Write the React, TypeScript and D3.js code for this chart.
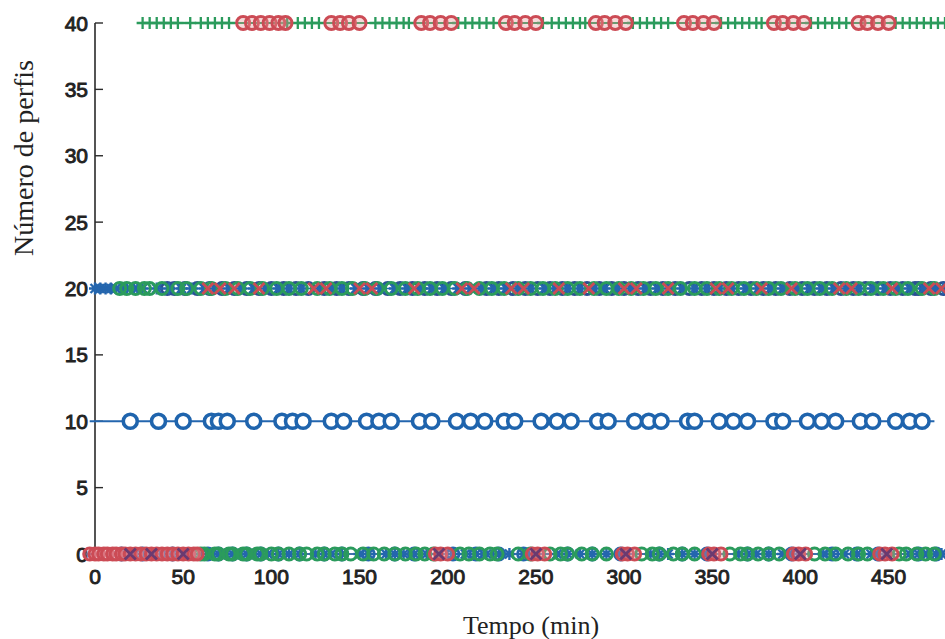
import React, { useEffect, useRef } from "react";
import * as d3 from "d3";

// axis ticks
const xTicks = [0, 50, 100, 150, 200, 250, 300, 350, 400, 450];
const yTicks = [0, 5, 10, 15, 20, 25, 30, 35, 40];

// level 40: green crosses + red circle clusters (minutes)
const crosses40 = [27, 31, 35, 39, 43, 47, 54, 60, 64, 68, 72, 76, 109, 115, 119, 123, 127, 159, 163, 167, 171, 175, 178, 206, 210, 214, 218, 222, 226, 254, 259, 263, 267, 271, 275, 278, 305, 309, 313, 317, 321, 325, 355, 359, 363, 367, 371, 375, 378, 406, 410, 414, 418, 422, 426, 454, 458, 462, 466, 470, 474, 478, 482];
const circles40 = [84, 89, 94, 99, 104, 108, 134, 139, 144, 150, 185, 190, 196, 202, 233, 238, 244, 250, 284, 289, 295, 301, 334, 339, 345, 351, 385, 390, 396, 402, 433, 438, 444, 450];
const line40 = [27, 482];

// level 20: mixed markers
const stars20 = [0, 3, 6, 9, 12, 16, 20, 24, 27, 35, 42, 49, 55, 62, 68, 76, 83, 90, 97, 104, 110, 117, 128, 134, 140, 148, 155, 162, 170, 177, 185, 191, 198, 206, 213, 219, 226, 233, 240, 247, 255, 261, 268, 275, 283, 289, 296, 304, 312, 319, 326, 333, 340, 347, 354, 361, 369, 376, 383, 390, 398, 405, 412, 419, 426, 433, 441, 448, 455, 462, 470, 476, 481];
const greenCircles20 = [14, 18, 23, 28, 31, 38, 47, 52, 60, 66, 74, 81, 88, 95, 103, 110, 117, 126, 133, 140, 146, 153, 160, 168, 176, 183, 190, 197, 204, 211, 218, 225, 232, 240, 247, 254, 261, 268, 275, 283, 290, 297, 304, 311, 318, 325, 332, 340, 347, 354, 361, 368, 375, 382, 389, 397, 404, 411, 418, 426, 433, 440, 447, 454, 461, 469, 476];
const redX20 = [64, 71, 79, 93, 124, 131, 150, 157, 181, 208, 215, 236, 243, 263, 280, 300, 307, 325, 352, 359, 378, 395, 422, 429, 452, 473, 480];
const blueCircles20 = [41, 45, 51, 58, 65, 72, 79, 86, 93, 100, 107, 114, 121, 130, 137, 144, 152, 159, 166, 173, 180, 187, 194, 202, 210, 222, 229, 237, 244, 251, 258, 265, 272, 279, 286, 293, 300, 308, 315, 322, 329, 337, 344, 351, 358, 365, 372, 379, 386, 394, 401, 408, 415, 423, 430, 437, 444, 451, 458, 465, 467, 474, 481];
const line20 = [-1, 482];

// level 10: blue circles on a blue line
const circles10 = [20, 36, 50, 66, 70, 75, 90, 106, 112, 118, 134, 141, 154, 161, 168, 184, 191, 205, 213, 221, 232, 238, 253, 262, 270, 285, 291, 306, 314, 321, 336, 340, 354, 362, 370, 385, 390, 404, 412, 420, 434, 441, 454, 462, 469];
const line10 = [-3, 476];

// level 0: mixed markers
const red0 = [-3, 0, 2, 5, 7, 10, 12, 15, 17, 20, 23, 26, 29, 32, 35, 38, 41, 44, 47, 50, 53, 56, 58, 193, 196, 200, 248, 251, 255, 299, 302, 306, 348, 351, 355, 396, 399, 403, 445, 448, 452];
const blue0 = [15, 22, 27, 38, 44, 55, 64, 66, 70, 74, 78, 82, 86, 90, 94, 98, 104, 110, 116, 125, 130, 134, 140, 150, 155, 165, 170, 175, 181, 188, 203, 210, 216, 222, 229, 235, 243, 262, 268, 275, 282, 290, 298, 315, 320, 325, 333, 340, 347, 365, 370, 375, 382, 390, 395, 413, 418, 425, 432, 440, 444, 462, 467, 472, 477, 480];
const green0 = [60, 62, 68, 70, 76, 78, 84, 86, 92, 94, 100, 104, 110, 116, 120, 126, 130, 136, 140, 145, 152, 158, 164, 170, 176, 182, 187, 192, 207, 212, 218, 224, 228, 240, 247, 258, 264, 268, 276, 282, 290, 310, 316, 320, 328, 333, 340, 360, 366, 370, 376, 382, 388, 408, 414, 420, 427, 433, 438, 456, 460, 466, 471, 476];
const purple0 = [20, 32, 50, 195, 250, 301, 350, 400, 449];
const line0 = [-5, 482];

const GREEN = "#2b9b5c";
const RED = "#cc4b55";
const BLUE = "#2466ae";
const NAVY = "#2b4f93";
const PURPLE = "#6b3a70";

const plus = (s: number) => `M${-s},0H${s}M0,${-s}V${s}`;
const cross = (s: number) => `M${-s},${-s}L${s},${s}M${-s},${s}L${s},${-s}`;
const star = (s: number) => plus(s) + cross(s * 0.75);

const App = () => {
  const ref = useRef<SVGSVGElement>(null);

  useEffect(() => {
    if (!ref.current) return;
    const svg = d3.select(ref.current);
    svg.selectAll("*").remove();

    const x = d3.scaleLinear().domain([0, 482]).range([95, 945]);
    const y = d3.scaleLinear().domain([0, 40]).range([554, 23]);

    // axes
    const axisColor = "#2a2a2a";
    svg.append("line").attr("x1", x(0)).attr("x2", x(0)).attr("y1", y(40)).attr("y2", y(0))
      .attr("stroke", axisColor).attr("stroke-width", 1.6);
    svg.append("line").attr("x1", x(0)).attr("x2", 945).attr("y1", y(0)).attr("y2", y(0))
      .attr("stroke", axisColor).attr("stroke-width", 1.2);

    svg.append("g").selectAll("line").data(yTicks).join("line")
      .attr("x1", x(0)).attr("x2", x(0) + 8).attr("y1", (d) => y(d)).attr("y2", (d) => y(d))
      .attr("stroke", axisColor).attr("stroke-width", 1.4);

    const tickFont = "'Liberation Sans', Arial, sans-serif";
    svg.append("g").selectAll("text").data(yTicks).join("text")
      .attr("x", x(0) - 7).attr("y", (d) => y(d)).attr("dy", "0.36em")
      .attr("text-anchor", "end").style("font-family", tickFont).style("font-size", "21px")
      .attr("fill", "#222").attr("stroke", "#222").attr("stroke-width", 0.9)
      .text((d) => d);

    svg.append("g").selectAll("text").data(xTicks).join("text")
      .attr("x", (d) => x(d)).attr("y", 584)
      .attr("text-anchor", "middle").style("font-family", tickFont).style("font-size", "21px")
      .attr("fill", "#222").attr("stroke", "#222").attr("stroke-width", 0.9)
      .text((d) => d);

    const serif = "'Liberation Serif', 'Times New Roman', serif";
    svg.append("text").attr("x", 531).attr("y", 634).attr("text-anchor", "middle")
      .style("font-family", serif).style("font-size", "26px").attr("fill", "#222")
      .text("Tempo (min)");
    svg.append("text").attr("transform", "translate(33,158) rotate(-90)").attr("text-anchor", "middle")
      .style("font-family", serif).style("font-size", "28px").attr("fill", "#222")
      .text("Número de perfis");

    const drawLine = (span: number[], level: number, color: string, w: number) => {
      svg.append("line").attr("x1", x(span[0])).attr("x2", x(span[1]))
        .attr("y1", y(level)).attr("y2", y(level))
        .attr("stroke", color).attr("stroke-width", w);
    };
    const drawPaths = (data: number[], level: number, d: string, color: string, w: number) => {
      svg.append("g").selectAll("path").data(data).join("path")
        .attr("transform", (t) => `translate(${x(t)},${y(level)})`)
        .attr("d", d).attr("fill", "none").attr("stroke", color).attr("stroke-width", w);
    };
    const drawCircles = (data: number[], level: number, r: number, color: string, w: number, fill = "none") => {
      svg.append("g").selectAll("circle").data(data).join("circle")
        .attr("cx", (t) => x(t)).attr("cy", y(level)).attr("r", r)
        .attr("fill", fill).attr("stroke", color).attr("stroke-width", w);
    };

    // level 40
    drawLine(line40, 40, GREEN, 1.8);
    drawPaths(crosses40, 40, plus(6), GREEN, 2.3);
    drawCircles(circles40, 40, 6.5, RED, 3, "rgba(230,150,150,0.35)");

    // level 20
    drawLine(line20, 20, BLUE, 1.5);
    drawCircles(blueCircles20, 20, 6, NAVY, 3);
    drawPaths(stars20, 20, star(6), BLUE, 2.4);
    drawCircles(greenCircles20, 20, 6, GREEN, 3);
    drawPaths(redX20, 20, cross(5.5), RED, 2.8);

    // level 10
    drawLine(line10, 10, BLUE, 1.8);
    drawCircles(circles10, 10, 7, "#1f64ad", 3.6, "#fff");

    // level 0
    drawLine(line0, 0, BLUE, 1.5);
    drawCircles(blue0.filter((_, i) => i % 2 === 0), 0, 6, BLUE, 2.8);
    drawPaths(blue0, 0, star(6), BLUE, 2.4);
    drawCircles(green0, 0, 6, GREEN, 3);
    drawCircles(red0, 0, 6, RED, 3, "rgba(230,150,160,0.35)");
    drawPaths(purple0, 0, cross(5.5), PURPLE, 2.8);
  }, []);

  return (
    <div style={{ position: "fixed", left: 0, top: 0, width: 945, height: 639, background: "#fff" }}>
      <svg ref={ref} width={945} height={639} />
    </div>
  );
};

export default App;
